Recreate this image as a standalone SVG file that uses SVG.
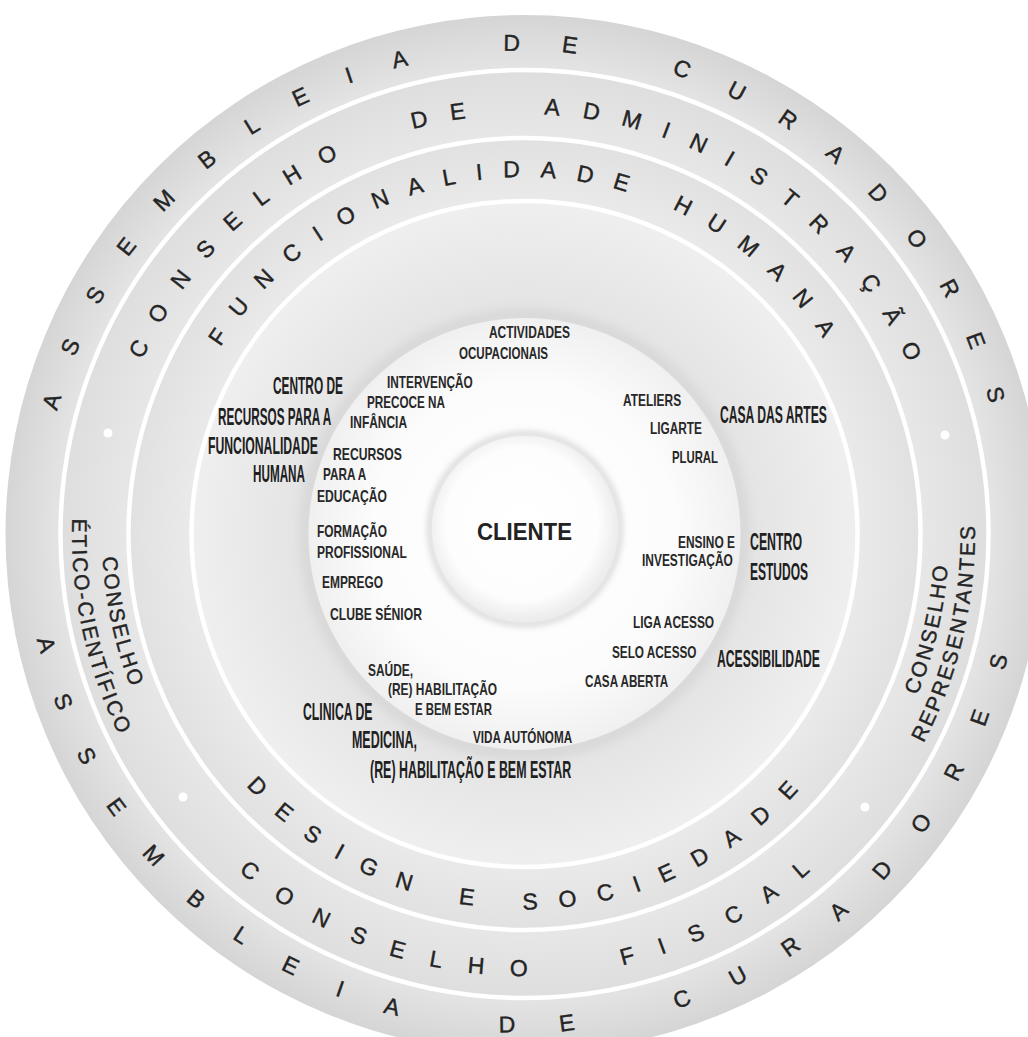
<svg xmlns="http://www.w3.org/2000/svg" width="1028" height="1037" viewBox="0 0 1028 1037">
<defs>
<radialGradient id="gDisk" gradientUnits="userSpaceOnUse" cx="524.5" cy="534" r="519">
<stop offset="0.64" stop-color="#eaeaea"/>
<stop offset="0.762" stop-color="#e1e1e1"/>
<stop offset="0.764" stop-color="#e7e7e7"/>
<stop offset="0.893" stop-color="#dedede"/>
<stop offset="0.895" stop-color="#e4e4e4"/>
<stop offset="1" stop-color="#d5d5d5"/>
</radialGradient>
<radialGradient id="gZone" gradientUnits="userSpaceOnUse" cx="524.5" cy="534" r="333">
<stop offset="0.62" stop-color="#e2e2e2"/>
<stop offset="1" stop-color="#efefef"/>
</radialGradient>
<radialGradient id="gInner" gradientUnits="userSpaceOnUse" cx="524.5" cy="534" r="216">
<stop offset="0" stop-color="#ffffff"/>
<stop offset="0.7" stop-color="#fcfcfc"/>
<stop offset="1" stop-color="#f0f0f0"/>
</radialGradient>
<radialGradient id="gClient" gradientUnits="userSpaceOnUse" cx="522" cy="524" r="95">
<stop offset="0" stop-color="#ffffff"/>
<stop offset="0.8" stop-color="#fdfdfd"/>
<stop offset="1" stop-color="#ededed"/>
</radialGradient>
<filter id="blur5" x="-20%" y="-20%" width="140%" height="140%"><feGaussianBlur stdDeviation="6"/></filter>
<filter id="blur3" x="-20%" y="-20%" width="140%" height="140%"><feGaussianBlur stdDeviation="3"/></filter>
<path id="p1t" d="M 41.7 534 A 482.8 482.8 0 0 1 1007.3 534"/>
<path id="p2t" d="M 104.7 534 A 419.8 419.8 0 0 1 944.3 534"/>
<path id="p3t" d="M 167.7 534 A 356.8 356.8 0 0 1 881.3 534"/>
<path id="p1b" d="M 26.3 534 A 498.2 498.2 0 0 0 1022.7 534"/>
<path id="p2b" d="M 82.3 534 A 442.2 442.2 0 0 0 966.7 534"/>
<path id="p3b" d="M 149.3 534 A 375.2 375.2 0 0 0 899.7 534"/>
<path id="pl1" d="M 158.6 322.75 A 422.5 422.5 0 0 0 524.5 956.5"/>
<path id="pl2" d="M 132.6 307.75 A 452.5 452.5 0 0 0 524.5 986.5"/>
<path id="pr1" d="M 736.75 901.6 A 424.5 424.5 0 0 0 736.75 166.4"/>
<path id="pr2" d="M 749.75 924.1 A 450.5 450.5 0 0 0 749.75 143.9"/>
</defs>
<style>
.ring { font-family: "Liberation Sans", Arial, sans-serif; font-size: 23px; fill: #242424; stroke: #242424; stroke-width: 0.4px; }
.side { font-family: "Liberation Sans", Arial, sans-serif; font-size: 21px; fill: #242424; stroke: #242424; stroke-width: 0.4px; letter-spacing: 2.2px; }
.big { font-family: "Liberation Sans", Arial, sans-serif; font-weight: bold; font-size: 24px; fill: #202020; }
.sm { font-family: "Liberation Sans", Arial, sans-serif; font-weight: bold; font-size: 16px; fill: #282828; }
.center { font-family: "Liberation Sans", Arial, sans-serif; font-weight: bold; font-size: 23.5px; fill: #222222; }
.sep { fill: none; stroke: #ffffff; stroke-width: 4.5; }
.dot { fill: #ffffff; }
</style>
<rect width="1028" height="1037" fill="#ffffff"/>

<g id="disk">
<circle cx="524.5" cy="534" r="519" fill="url(#gDisk)"/>
<circle cx="524.5" cy="534" r="333" fill="url(#gZone)"/>
<circle class="sep" cx="524.5" cy="534" r="464"/>
<circle class="sep" cx="524.5" cy="534" r="396"/>
<circle class="sep" cx="524.5" cy="534" r="333"/>
</g>

<g id="ring-assembleia">
<text class="ring" style="letter-spacing:41.3px;word-spacing:8px"><textPath href="#p1t" startOffset="123.8">ASSEMBLEIA DE CURADORES</textPath></text>
<text class="ring" style="letter-spacing:44.7px;word-spacing:8px"><textPath href="#p1b" startOffset="106.2">ASSEMBLEIA DE CURADORES</textPath></text>
</g>

<g id="ring-conselhos">
<text class="ring" style="letter-spacing:22.6px;word-spacing:27.8px"><textPath href="#p2t" startOffset="179.3">CONSELHO DE ADMINISTRAÇÃO</textPath></text>
<text class="ring" style="letter-spacing:26.4px;word-spacing:36px"><textPath href="#p2b" startOffset="383.8">CONSELHO FISCAL</textPath></text>
<text class="side" text-anchor="middle"><textPath href="#pl1" startOffset="311.9">CONSELHO</textPath></text>
<text class="side" text-anchor="middle"><textPath href="#pl2" startOffset="334.1">ÉTICO-CIENTÍFICO</textPath></text>
<text class="side" text-anchor="middle"><textPath href="#pr1" startOffset="346.7">CONSELHO</textPath></text>
<text class="side" text-anchor="middle"><textPath href="#pr2" startOffset="368">REPRESENTANTES</textPath></text>
<circle class="dot" cx="108" cy="433" r="4.5"/>
<circle class="dot" cx="945" cy="435" r="4.5"/>
<circle class="dot" cx="183" cy="797" r="4.5"/>
<circle class="dot" cx="865" cy="807" r="4.5"/>
</g>

<g id="ring-funcionalidade">
<text class="ring" style="letter-spacing:20.3px;word-spacing:1.5px"><textPath href="#p3t" startOffset="196.6">FUNCIONALIDADE HUMANA</textPath></text>
<text class="ring" style="letter-spacing:21.7px"><textPath href="#p3b" startOffset="275.9">DESIGN E SOCIEDADE</textPath></text>
</g>

<g id="inner-circle">
<circle cx="524.5" cy="534" r="219" fill="none" stroke="#cfcfcf" stroke-width="7" filter="url(#blur5)"/>
<circle cx="524.5" cy="534" r="216" fill="url(#gInner)"/>
</g>

<g id="cliente">
<circle cx="525" cy="529" r="95" fill="none" stroke="#d2d2d2" stroke-width="5" filter="url(#blur3)"/>
<circle cx="525" cy="529" r="93" fill="url(#gClient)"/>
<text class="center" transform="translate(477 540) scale(0.945 1)">CLIENTE</text>
</g>

<g id="centro-recursos">
<text class="big" transform="translate(273 394) scale(0.495 1)">CENTRO DE</text>
<text class="big" transform="translate(218 425) scale(0.49 1)">RECURSOS PARA A</text>
<text class="big" transform="translate(208 454) scale(0.509 1)">FUNCIONALIDADE</text>
<text class="big" transform="translate(253 482) scale(0.488 1)">HUMANA</text>
</g>
<g id="actividades">
<text class="sm" transform="translate(489 338) scale(0.747 1)">ACTIVIDADES</text>
<text class="sm" transform="translate(459 359) scale(0.723 1)">OCUPACIONAIS</text>
</g>
<g id="intervencao">
<text class="sm" transform="translate(387 388) scale(0.739 1)">INTERVENÇÃO</text>
<text class="sm" transform="translate(367 408) scale(0.731 1)">PRECOCE NA</text>
<text class="sm" transform="translate(350 428) scale(0.746 1)">INFÂNCIA</text>
</g>
<g id="recursos-educacao">
<text class="sm" transform="translate(333 460) scale(0.761 1)">RECURSOS</text>
<text class="sm" transform="translate(323 480) scale(0.734 1)">PARA A</text>
<text class="sm" transform="translate(317 502) scale(0.757 1)">EDUCAÇÃO</text>
</g>
<g id="formacao">
<text class="sm" transform="translate(317 537) scale(0.743 1)">FORMAÇÃO</text>
<text class="sm" transform="translate(317 558) scale(0.75 1)">PROFISSIONAL</text>
</g>
<g id="emprego"><text class="sm" transform="translate(322 588) scale(0.746 1)">EMPREGO</text></g>
<g id="clube-senior"><text class="sm" transform="translate(330 620) scale(0.761 1)">CLUBE SÉNIOR</text></g>
<g id="saude">
<text class="sm" transform="translate(368 676) scale(0.745 1)">SAÚDE,</text>
<text class="sm" transform="translate(388 695) scale(0.746 1)">(RE) HABILITAÇÃO</text>
<text class="sm" transform="translate(415 715) scale(0.713 1)">E BEM ESTAR</text>
</g>
<g id="vida-autonoma"><text class="sm" transform="translate(473 743) scale(0.731 1)">VIDA AUTÓNOMA</text></g>
<g id="clinica">
<text class="big" transform="translate(303 720) scale(0.51 1)">CLINICA DE</text>
<text class="big" transform="translate(352 748) scale(0.519 1)">MEDICINA,</text>
<text class="big" transform="translate(370 778) scale(0.518 1)">(RE) HABILITAÇÃO E BEM ESTAR</text>
</g>
<g id="casa-das-artes">
<text class="big" transform="translate(720 423) scale(0.506 1)">CASA DAS ARTES</text>
<text class="sm" transform="translate(623 406) scale(0.746 1)">ATELIERS</text>
<text class="sm" transform="translate(650 434) scale(0.741 1)">LIGARTE</text>
<text class="sm" transform="translate(672 463) scale(0.709 1)">PLURAL</text>
</g>
<g id="centro-estudos">
<text class="big" transform="translate(750 550) scale(0.513 1)">CENTRO</text>
<text class="big" transform="translate(750 580) scale(0.5 1)">ESTUDOS</text>
<text class="sm" transform="translate(678 548) scale(0.745 1)">ENSINO E</text>
<text class="sm" transform="translate(642 566) scale(0.747 1)">INVESTIGAÇÃO</text>
</g>
<g id="acessibilidade">
<text class="big" transform="translate(717 667) scale(0.508 1)">ACESSIBILIDADE</text>
<text class="sm" transform="translate(633 628) scale(0.744 1)">LIGA ACESSO</text>
<text class="sm" transform="translate(612 658) scale(0.735 1)">SELO ACESSO</text>
<text class="sm" transform="translate(585 687) scale(0.73 1)">CASA ABERTA</text>
</g>
<g id="connectors"/>
</svg>
